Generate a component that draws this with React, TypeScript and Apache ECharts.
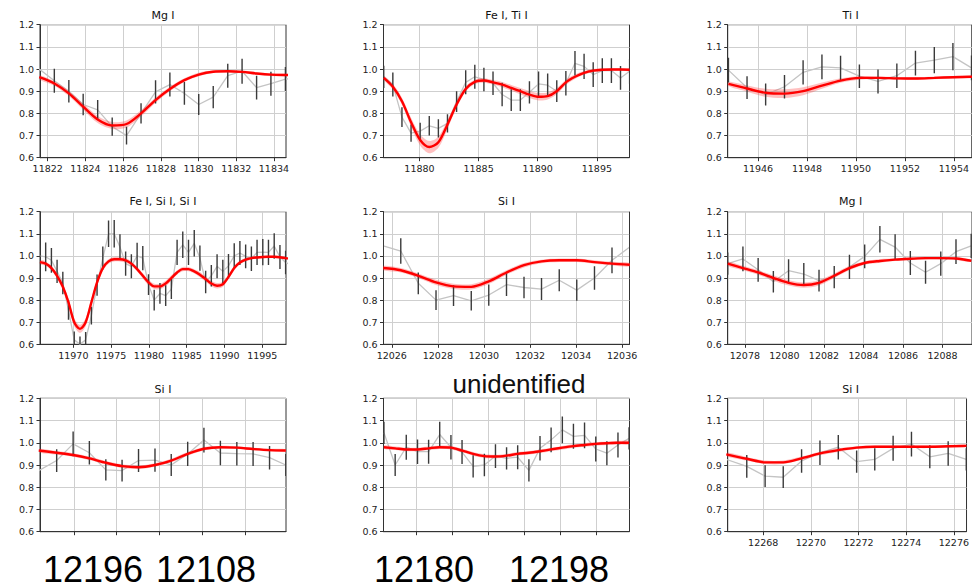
import React, { useEffect, useRef } from "react";
import * as echarts from "echarts";

// ---------- Panel 1: Mg I ----------
const p1Title = "Mg I";
const p1Range = [11821.59, 11834.64];
const p1Ticks = [11822, 11824, 11826, 11828, 11830, 11832, 11834];
const p1Wave = [11821.55, 11822.35, 11823.12, 11823.88, 11824.65, 11825.42, 11826.18, 11826.95, 11827.72, 11828.48, 11829.25, 11830.01, 11830.78, 11831.55, 11832.31, 11833.08, 11833.84, 11834.61, 11835.38];
const p1Flux = [1.0, 0.947, 0.9, 0.84, 0.816, 0.74, 0.7, 0.8, 0.897, 0.93, 0.89, 0.84, 0.873, 0.97, 0.99, 0.916, 0.934, 0.955, 0.96];
const p1Err = [0.05, 0.054, 0.051, 0.049, 0.044, 0.041, 0.04, 0.046, 0.052, 0.054, 0.051, 0.047, 0.05, 0.054, 0.056, 0.054, 0.054, 0.054, 0.054];
const p1Model = [0.963, 0.935, 0.89, 0.83, 0.772, 0.745, 0.752, 0.8, 0.86, 0.91, 0.95, 0.975, 0.988, 0.99, 0.987, 0.98, 0.975, 0.973, 0.972];
const p1Band = [0.01, 0.01, 0.012, 0.014, 0.016, 0.016, 0.016, 0.014, 0.012, 0.01, 0.008, 0.008, 0.006, 0.006, 0.006, 0.006, 0.006, 0.006, 0.006];

// ---------- Panel 2: Fe I, Ti I ----------
const p2Title = "Fe I, Ti I";
const p2Range = [11876.96, 11897.76];
const p2Ticks = [11880, 11885, 11890, 11895];
const p2Wave = [11876.98, 11877.75, 11878.52, 11879.29, 11880.06, 11880.83, 11881.6, 11882.37, 11883.14, 11883.91, 11884.68, 11885.45, 11886.22, 11886.99, 11887.76, 11888.53, 11889.3, 11890.07, 11890.84, 11891.61, 11892.38, 11893.15, 11893.92, 11894.69, 11895.46, 11896.23, 11897.0, 11897.77];
const p2Flux = [0.965, 0.93, 0.783, 0.711, 0.72, 0.744, 0.732, 0.755, 0.853, 0.94, 0.965, 0.953, 0.936, 0.885, 0.86, 0.86, 0.895, 0.933, 0.927, 0.9, 0.936, 1.026, 1.012, 0.975, 0.993, 0.993, 0.96, 0.99];
const p2Err = [0.05, 0.054, 0.045, 0.039, 0.038, 0.044, 0.041, 0.041, 0.047, 0.054, 0.054, 0.053, 0.053, 0.053, 0.049, 0.049, 0.05, 0.056, 0.053, 0.049, 0.055, 0.055, 0.057, 0.056, 0.056, 0.056, 0.054, 0.056];
const p2Model = [0.96, 0.92, 0.855, 0.76, 0.68, 0.648, 0.67, 0.75, 0.84, 0.91, 0.942, 0.948, 0.94, 0.93, 0.915, 0.9, 0.885, 0.875, 0.878, 0.9, 0.94, 0.965, 0.983, 0.993, 0.997, 0.998, 0.998, 0.997];
const p2Band = [0.01, 0.012, 0.016, 0.02, 0.025, 0.028, 0.025, 0.02, 0.015, 0.012, 0.01, 0.01, 0.01, 0.012, 0.013, 0.014, 0.016, 0.017, 0.016, 0.014, 0.012, 0.01, 0.008, 0.007, 0.006, 0.006, 0.006, 0.006];

// ---------- Panel 3: Ti I ----------
const p3Title = "Ti I";
const p3Range = [11944.76, 11954.73];
const p3Ticks = [11946, 11948, 11950, 11952, 11954];
const p3Wave = [11944.79, 11945.55, 11946.31, 11947.08, 11947.84, 11948.61, 11949.37, 11950.14, 11950.9, 11951.67, 11952.43, 11953.2, 11953.96, 11954.72, 11955.49];
const p3Flux = [0.995, 0.916, 0.885, 0.92, 0.985, 1.01, 1.005, 0.968, 0.944, 0.97, 1.027, 1.04, 1.056, 1.005, 1.0];
const p3Err = [0.056, 0.051, 0.05, 0.053, 0.055, 0.056, 0.055, 0.053, 0.054, 0.055, 0.056, 0.059, 0.061, 0.056, 0.056];
const p3Model = [0.933, 0.912, 0.893, 0.889, 0.9, 0.925, 0.948, 0.96, 0.96, 0.958, 0.957, 0.96, 0.963, 0.965, 0.966];
const p3Band = [0.01, 0.014, 0.018, 0.02, 0.018, 0.014, 0.01, 0.008, 0.006, 0.006, 0.006, 0.006, 0.006, 0.006, 0.006];

// ---------- Panel 4: Fe I, Si I, Si I ----------
const p4Title = "Fe I, Si I, Si I";
const p4Range = [11965.59, 11998.14];
const p4Ticks = [11970, 11975, 11980, 11985, 11990, 11995];
const p4Wave = [11965.58, 11966.34, 11967.1, 11967.85, 11968.61, 11969.36, 11970.12, 11970.88, 11971.63, 11972.39, 11973.14, 11973.9, 11974.66, 11975.41, 11976.17, 11976.92, 11977.68, 11978.44, 11979.19, 11979.95, 11980.7, 11981.46, 11982.22, 11982.97, 11983.73, 11984.48, 11985.24, 11986.0, 11986.75, 11987.51, 11988.26, 11989.02, 11989.78, 11990.53, 11991.29, 11992.04, 11992.8, 11993.56, 11994.31, 11995.07, 11995.82, 11996.58, 11997.34, 11998.09, 11998.85];
const p4Flux = [1.0, 0.996, 0.98, 0.93, 0.877, 0.754, 0.62, 0.6, 0.62, 0.73, 0.868, 0.99, 1.1, 1.1, 1.04, 0.965, 0.953, 1.0, 0.99, 0.87, 0.8, 0.83, 0.82, 0.85, 1.016, 1.05, 1.016, 1.057, 0.99, 0.882, 0.91, 0.953, 0.93, 0.955, 1.0, 1.013, 0.998, 0.987, 1.016, 1.017, 1.016, 1.045, 0.995, 0.97, 0.96];
const p4Err = [0.05, 0.065, 0.056, 0.053, 0.051, 0.043, 0.038, 0.035, 0.036, 0.04, 0.048, 0.052, 0.06, 0.062, 0.058, 0.055, 0.054, 0.059, 0.055, 0.047, 0.047, 0.047, 0.047, 0.045, 0.057, 0.06, 0.057, 0.06, 0.057, 0.051, 0.049, 0.054, 0.053, 0.054, 0.057, 0.054, 0.054, 0.055, 0.057, 0.059, 0.057, 0.058, 0.054, 0.053, 0.05];
const p4Model = [0.972, 0.965, 0.945, 0.91, 0.86, 0.79, 0.7, 0.67, 0.7, 0.79, 0.88, 0.945, 0.975, 0.985, 0.985, 0.98, 0.965, 0.94, 0.91, 0.88, 0.862, 0.862, 0.875, 0.9, 0.925, 0.94, 0.94, 0.93, 0.915, 0.895, 0.875, 0.865, 0.872, 0.905, 0.945, 0.97, 0.983, 0.99, 0.993, 0.995, 0.996, 0.996, 0.994, 0.99, 0.987];
const p4Band = [0.01, 0.01, 0.01, 0.012, 0.014, 0.016, 0.018, 0.018, 0.018, 0.016, 0.014, 0.012, 0.01, 0.01, 0.01, 0.01, 0.01, 0.01, 0.012, 0.012, 0.012, 0.012, 0.012, 0.012, 0.01, 0.01, 0.01, 0.01, 0.012, 0.012, 0.012, 0.012, 0.012, 0.01, 0.01, 0.008, 0.008, 0.006, 0.006, 0.006, 0.006, 0.006, 0.006, 0.006, 0.006];

// ---------- Panel 5: Si I ----------
const p5Title = "Si I";
const p5Range = [12025.64, 12036.32];
const p5Ticks = [12026, 12028, 12030, 12032, 12034, 12036];
const p5Wave = [12025.63, 12026.39, 12027.15, 12027.92, 12028.68, 12029.45, 12030.21, 12030.98, 12031.74, 12032.5, 12033.27, 12034.03, 12034.8, 12035.56, 12036.33];
const p5Flux = [1.045, 1.022, 0.876, 0.8, 0.82, 0.797, 0.823, 0.87, 0.857, 0.85, 0.89, 0.845, 0.9, 0.98, 1.04];
const p5Err = [0.05, 0.058, 0.049, 0.045, 0.047, 0.044, 0.048, 0.051, 0.049, 0.05, 0.05, 0.048, 0.053, 0.058, 0.058];
const p5Model = [0.945, 0.935, 0.91, 0.88, 0.862, 0.86, 0.885, 0.925, 0.958, 0.975, 0.98, 0.98, 0.972, 0.965, 0.96];
const p5Band = [0.01, 0.01, 0.01, 0.012, 0.012, 0.012, 0.012, 0.01, 0.01, 0.008, 0.008, 0.008, 0.008, 0.008, 0.008];

// ---------- Panel 6: Mg I ----------
const p6Title = "Mg I";
const p6Range = [12077.13, 12089.49];
const p6Ticks = [12078, 12080, 12082, 12084, 12086, 12088];
const p6Wave = [12077.13, 12077.9, 12078.67, 12079.44, 12080.21, 12080.98, 12081.75, 12082.52, 12083.29, 12084.06, 12084.83, 12085.6, 12086.37, 12087.14, 12087.91, 12088.68, 12089.45];
const p6Flux = [0.965, 0.986, 0.937, 0.883, 0.933, 0.918, 0.888, 0.904, 0.95, 0.998, 1.075, 1.04, 0.968, 0.926, 0.965, 1.019, 1.045];
const p6Err = [0.05, 0.056, 0.054, 0.049, 0.052, 0.05, 0.049, 0.05, 0.055, 0.054, 0.06, 0.058, 0.054, 0.052, 0.055, 0.056, 0.055];
const p6Model = [0.965, 0.945, 0.925, 0.9, 0.878, 0.868, 0.878, 0.91, 0.945, 0.968, 0.977, 0.983, 0.987, 0.99, 0.99, 0.988, 0.978];
const p6Band = [0.01, 0.01, 0.01, 0.012, 0.012, 0.012, 0.012, 0.01, 0.01, 0.008, 0.008, 0.006, 0.006, 0.006, 0.006, 0.006, 0.006];

// ---------- Panel 7: Si I ----------
const p7Title = "Si I";
const p7Range = [12098.41, 12109.92];
const p7Ticks = [12100, 12102, 12104, 12106, 12108];
const p7Wave = [12098.35, 12099.19, 12099.96, 12100.72, 12101.49, 12102.25, 12103.02, 12103.79, 12104.55, 12105.32, 12106.08, 12106.85, 12107.62, 12108.38, 12109.15, 12109.91];
const p7Flux = [0.875, 0.92, 0.995, 0.955, 0.878, 0.875, 0.92, 0.922, 0.9, 0.95, 1.012, 0.954, 0.951, 0.95, 0.933, 0.9];
const p7Err = [0.05, 0.051, 0.056, 0.053, 0.048, 0.049, 0.052, 0.052, 0.049, 0.055, 0.056, 0.055, 0.053, 0.054, 0.053, 0.05];
const p7Model = [0.965, 0.955, 0.945, 0.93, 0.91, 0.895, 0.89, 0.9, 0.92, 0.95, 0.973, 0.98, 0.978, 0.972, 0.967, 0.965];
const p7Band = [0.008, 0.008, 0.008, 0.008, 0.008, 0.008, 0.008, 0.008, 0.008, 0.008, 0.008, 0.006, 0.006, 0.006, 0.006, 0.006];

// ---------- Panel 8: unidentified ----------
const p8Title = "unidentified";
const p8Range = [12180.24, 12197.31];
const p8Ticks = [12182.5, 12185, 12187.5, 12190, 12192.5, 12195];
const p8Wave = [12180.27, 12181.05, 12181.82, 12182.6, 12183.37, 12184.14, 12184.92, 12185.69, 12186.46, 12187.24, 12188.01, 12188.78, 12189.55, 12190.33, 12191.1, 12191.87, 12192.65, 12193.42, 12194.19, 12194.97, 12195.74, 12196.51, 12197.28];
const p8Flux = [1.045, 0.9, 0.98, 0.96, 0.96, 1.037, 0.98, 0.958, 0.894, 0.9, 0.94, 0.93, 0.935, 0.876, 0.975, 1.013, 1.058, 1.029, 1.033, 0.972, 0.953, 0.99, 1.02];
const p8Err = [0.05, 0.049, 0.056, 0.055, 0.054, 0.058, 0.055, 0.054, 0.05, 0.051, 0.053, 0.05, 0.054, 0.05, 0.055, 0.056, 0.06, 0.056, 0.058, 0.056, 0.054, 0.056, 0.05];
const p8Model = [0.98, 0.975, 0.97, 0.97, 0.975, 0.98, 0.978, 0.965, 0.95, 0.94, 0.938, 0.942, 0.95, 0.955, 0.962, 0.97, 0.978, 0.985, 0.99, 0.995, 0.998, 1.0, 1.0];
const p8Band = [0.008, 0.008, 0.008, 0.008, 0.008, 0.008, 0.008, 0.008, 0.008, 0.008, 0.008, 0.008, 0.008, 0.008, 0.008, 0.008, 0.008, 0.008, 0.008, 0.008, 0.008, 0.008, 0.008];

// ---------- Panel 9: Si I ----------
const p9Title = "Si I";
const p9Range = [12266.51, 12276.53];
const p9Ticks = [12268, 12270, 12272, 12274, 12276];
const p9Wave = [12266.45, 12267.31, 12268.08, 12268.84, 12269.61, 12270.38, 12271.15, 12271.92, 12272.68, 12273.45, 12274.22, 12274.99, 12275.76, 12276.52];
const p9Flux = [0.925, 0.894, 0.85, 0.845, 0.918, 0.955, 0.98, 0.915, 0.925, 0.975, 0.994, 0.937, 0.952, 0.925];
const p9Err = [0.05, 0.051, 0.049, 0.049, 0.053, 0.055, 0.055, 0.05, 0.05, 0.056, 0.056, 0.052, 0.055, 0.05];
const p9Model = [0.948, 0.928, 0.912, 0.912, 0.93, 0.952, 0.967, 0.978, 0.982, 0.982, 0.982, 0.982, 0.984, 0.986];
const p9Band = [0.008, 0.008, 0.008, 0.008, 0.008, 0.008, 0.008, 0.006, 0.006, 0.006, 0.006, 0.006, 0.006, 0.006];

// Y axis
const yMin = 0.6;
const yMax = 1.2;
const yStep = 0.1;

// Overlaid annotation texts at the bottom
const bottomTexts = ["12196", "12108", "12180", "12198"];

const panels = [
  { title: p1Title, range: p1Range, ticks: p1Ticks, wave: p1Wave, flux: p1Flux, err: p1Err, model: p1Model, band: p1Band, labels: true },
  { title: p2Title, range: p2Range, ticks: p2Ticks, wave: p2Wave, flux: p2Flux, err: p2Err, model: p2Model, band: p2Band, labels: true },
  { title: p3Title, range: p3Range, ticks: p3Ticks, wave: p3Wave, flux: p3Flux, err: p3Err, model: p3Model, band: p3Band, labels: true },
  { title: p4Title, range: p4Range, ticks: p4Ticks, wave: p4Wave, flux: p4Flux, err: p4Err, model: p4Model, band: p4Band, labels: true },
  { title: p5Title, range: p5Range, ticks: p5Ticks, wave: p5Wave, flux: p5Flux, err: p5Err, model: p5Model, band: p5Band, labels: true },
  { title: p6Title, range: p6Range, ticks: p6Ticks, wave: p6Wave, flux: p6Flux, err: p6Err, model: p6Model, band: p6Band, labels: true },
  { title: p7Title, range: p7Range, ticks: p7Ticks, wave: p7Wave, flux: p7Flux, err: p7Err, model: p7Model, band: p7Band, labels: false },
  { title: p8Title, range: p8Range, ticks: p8Ticks, wave: p8Wave, flux: p8Flux, err: p8Err, model: p8Model, band: p8Band, labels: false },
  { title: p9Title, range: p9Range, ticks: p9Ticks, wave: p9Wave, flux: p9Flux, err: p9Err, model: p9Model, band: p9Band, labels: true },
];

// Layout (pixels)
const colLeft = [40, 383.5, 727.7];
const rowTop = [24.7, 211.7, 398.3];
const rowHeight = [133, 132.6, 133.4];
const panelWidth = 246;
const titleY = [15.5, 201.5, 389];

const FONT = "DejaVu Sans, sans-serif";

function buildOption() {
  const grid: any[] = [];
  const xAxis: any[] = [];
  const yAxis: any[] = [];
  const series: any[] = [];
  const graphic: any[] = [];

  panels.forEach((p, i) => {
    const r = Math.floor(i / 3);
    const c = i % 3;
    grid.push({
      left: colLeft[c],
      top: rowTop[r],
      width: panelWidth,
      height: rowHeight[r],
      show: true,
      borderColor: "#333",
      borderWidth: 1,
      backgroundColor: "transparent",
      containLabel: false,
    });
    xAxis.push({
      type: "value",
      gridIndex: i,
      min: p.range[0],
      max: p.range[1],
      axisLine: { show: true, onZero: false, lineStyle: { color: "#333", width: 1 } },
      axisTick: { show: true, length: 3.5, customValues: p.ticks, lineStyle: { color: "#333" } },
      axisLabel: {
        show: p.labels,
        customValues: p.ticks,
        fontSize: 9.5,
        color: "#222",
        margin: 6,
        fontFamily: FONT,
        formatter: (v: number) => String(v),
      },
      splitLine: { show: true, lineStyle: { color: "#cfcfcf", width: 1 } },
    });
    yAxis.push({
      type: "value",
      gridIndex: i,
      min: yMin,
      max: yMax,
      interval: yStep,
      axisLine: { show: true, onZero: false, lineStyle: { color: "#333", width: 1 } },
      axisTick: { show: true, length: 3.5, lineStyle: { color: "#333" } },
      axisLabel: {
        fontSize: 9.5,
        color: "#222",
        margin: 6,
        fontFamily: FONT,
        formatter: (v: number) => v.toFixed(1),
      },
      splitLine: { show: true, lineStyle: { color: "#cfcfcf", width: 1 } },
    });

    // grey observed line
    series.push({
      type: "line",
      xAxisIndex: i,
      yAxisIndex: i,
      data: p.wave.map((w, k) => [w, p.flux[k]]),
      symbol: "none",
      lineStyle: { color: "#c4c4c4", width: 1.3 },
      z: 2,
      silent: true,
    });

    // pink model band
    series.push({
      type: "custom",
      xAxisIndex: i,
      yAxisIndex: i,
      clip: true,
      data: p.wave.map((w, k) => [w, p.model[k]]),
      encode: { x: 0, y: 1 },
      z: 3,
      silent: true,
      renderItem: (params: any, api: any) => {
        if (params.dataIndex !== 0) return null;
        const upper = p.wave.map((w, k) => api.coord([w, p.model[k] + p.band[k]]));
        const lower = p.wave.map((w, k) => api.coord([w, p.model[k] - p.band[k]])).reverse();
        return {
          type: "polygon",
          shape: { points: upper.concat(lower), smooth: 0.3 },
          style: { fill: "rgba(255,60,60,0.32)", stroke: "none" },
        };
      },
    });

    // error bars
    series.push({
      type: "custom",
      xAxisIndex: i,
      yAxisIndex: i,
      clip: true,
      data: p.wave.map((w, k) => [w, p.flux[k], p.err[k]]),
      encode: { x: 0, y: 1 },
      z: 4,
      silent: true,
      renderItem: (params: any, api: any) => {
        const x = api.value(0);
        const y = api.value(1);
        const e = api.value(2);
        const a = api.coord([x, y - e]);
        const b = api.coord([x, y + e]);
        return {
          type: "line",
          shape: { x1: a[0], y1: a[1], x2: b[0], y2: b[1] },
          style: { stroke: "#3a3a3a", lineWidth: 1.4 },
        };
      },
    });

    // red model line
    series.push({
      type: "line",
      xAxisIndex: i,
      yAxisIndex: i,
      data: p.wave.map((w, k) => [w, p.model[k]]),
      symbol: "none",
      smooth: 0.3,
      lineStyle: { color: "#ff0000", width: 2.4 },
      z: 5,
      silent: true,
    });

    const isBig = p.title === "unidentified";
    graphic.push({
      type: "text",
      x: isBig ? 519 : colLeft[c] + panelWidth / 2,
      y: isBig ? 384 : titleY[r],
      style: {
        text: p.title,
        fill: "#111",
        fontSize: isBig ? 26 : 11,
        fontFamily: isBig ? "Liberation Sans, Arial, sans-serif" : FONT,
        align: "center",
        verticalAlign: "middle",
      },
      z: 10,
    });
  });

  const bigX = [43, 156, 374, 509];
  bottomTexts.forEach((t, k) => {
    graphic.push({
      type: "text",
      x: bigX[k],
      y: 569,
      style: {
        text: t,
        fill: "#000",
        fontSize: 36,
        fontFamily: "Liberation Sans, Arial, sans-serif",
        align: "left",
        verticalAlign: "middle",
      },
      z: 10,
    });
  });

  return {
    animation: false,
    backgroundColor: "#ffffff",
    grid,
    xAxis,
    yAxis,
    series,
    graphic,
  };
}

export default function App() {
  const ref = useRef<HTMLDivElement>(null);
  useEffect(() => {
    if (!ref.current) return;
    const chart = echarts.init(ref.current, null, { renderer: "svg" });
    chart.setOption(buildOption() as any);
    return () => chart.dispose();
  }, []);
  return (
    <div
      ref={ref}
      style={{ position: "fixed", left: 0, top: 0, width: 972, height: 588, background: "#fff" }}
    />
  );
}
